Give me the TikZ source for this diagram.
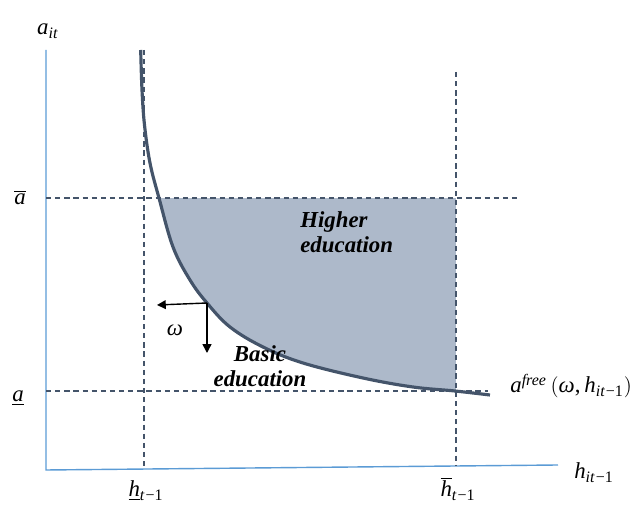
\documentclass[tikz,border=0pt]{standalone}
\usepackage{fontspec}
\setmainfont{Liberation Serif}
\definecolor{slategray}{HTML}{44546A}
\definecolor{shadegray}{HTML}{ADB9CA}
\definecolor{axisblue}{HTML}{5B9BD5}
\usetikzlibrary{arrows.meta,positioning}
\tikzset{
  axisline/.style={axisblue,line width=0.8pt},
  guide/.style={slategray,line width=0.6pt,dash pattern=on 3pt off 2.2pt},
  freecurve/.style={slategray,line width=1.8pt},
  shiftarrow/.style={-{Triangle[length=5pt,width=5pt]},line width=0.8pt},
  lab/.style={font=\fontsize{13}{15}\selectfont,inner sep=0pt},
  region/.style={font=\fontsize{13}{14.5}\selectfont\bfseries\itshape,inner sep=0pt}
}
\newcommand{\lsub}[1]{\textsubscript{\textit{#1}}}
\newcommand{\freepath}{plot[smooth,tension=0.6] coordinates {(140.7,50) (142,90) (144.5,125) (150,163) (159,198) (173,247) (190,280) (207,303) (230,327) (263,347) (303,363) (363,378) (413,387) (455,391) (490,395)}}

\begin{document}
\begin{tikzpicture}[x=0.02cm,y=-0.02cm]
  \useasboundingbox (0,0) rectangle (637,506);
  % axes
  \coordinate (origin) at (46,470);
  \coordinate (ytop) at (46,50);
  \coordinate (xend) at (558,465);
  \draw[axisline] (ytop) -- (origin) -- (xend);
  \node[lab,anchor=base] (alab) at (48,35) {\textit{a}\lsub{it}};
  \node[lab,anchor=base] (hlab) at (594,479) {\textit{h}\lsub{it}\textsubscript{−1}};

  % shaded region above the curve
  \begin{scope}
    \clip \freepath -- (637,395) -- (637,0) -- (140.7,0) -- cycle;
    \fill[shadegray] (144,198) rectangle (456,400);
  \end{scope}

  % guide lines
  \coordinate (hlowtop) at (144,50);
  \coordinate (hlowbot) at (144,470);
  \coordinate (hhightop) at (456,72);
  \coordinate (hhighbot) at (456,466);
  \coordinate (ahighend) at (518,198);
  \coordinate (alowend) at (488,391);
  \draw[guide] (hlowtop) -- (hlowbot);
  \draw[guide] (hhightop) -- (hhighbot);
  \draw[guide] (46,198) -- (ahighend);
  \draw[guide] (46,391) -- (alowend);
  \node[lab,anchor=base] (ahigh) at (20,205) {$\overline{\mbox{\textit{a}}}$};
  \node[lab,anchor=base] (alow) at (18,402) {\underline{\textit{a}}};
  \node[lab,anchor=base] (hlow) at (146,497) {\underline{\textit{h}}\lsub{t}\textsubscript{−1}};
  \node[lab,anchor=base] (hhigh) at (458,497) {$\overline{\mbox{\textit{h}}}$\lsub{t}\textsubscript{−1}};

  % a^free curve
  \draw[freecurve] \freepath;
  \node[lab,anchor=base west] (afree) at (510,393) {\textit{a}\textsuperscript{\textit{free}}\,$\bigl(\mbox{\textit{ω},\,\textit{h}\lsub{it}\textsubscript{−1}}\bigr)$};

  % shift in omega
  \coordinate (corner) at (207,303);
  \coordinate (lefttip) at (157,305);
  \coordinate (downtip) at (207,353);
  \draw[shiftarrow] (corner) -- (lefttip);
  \draw[shiftarrow] (corner) -- (downtip);
  \node[lab] (omega) at (175,330) {\textit{ω}};

  % regions
  \node[region,anchor=base west,align=left] (higher) at (300,253) {Higher\\education};
  \node[region,anchor=base,align=center] (basic) at (260,387) {Basic\\education};
\end{tikzpicture}
\end{document}
